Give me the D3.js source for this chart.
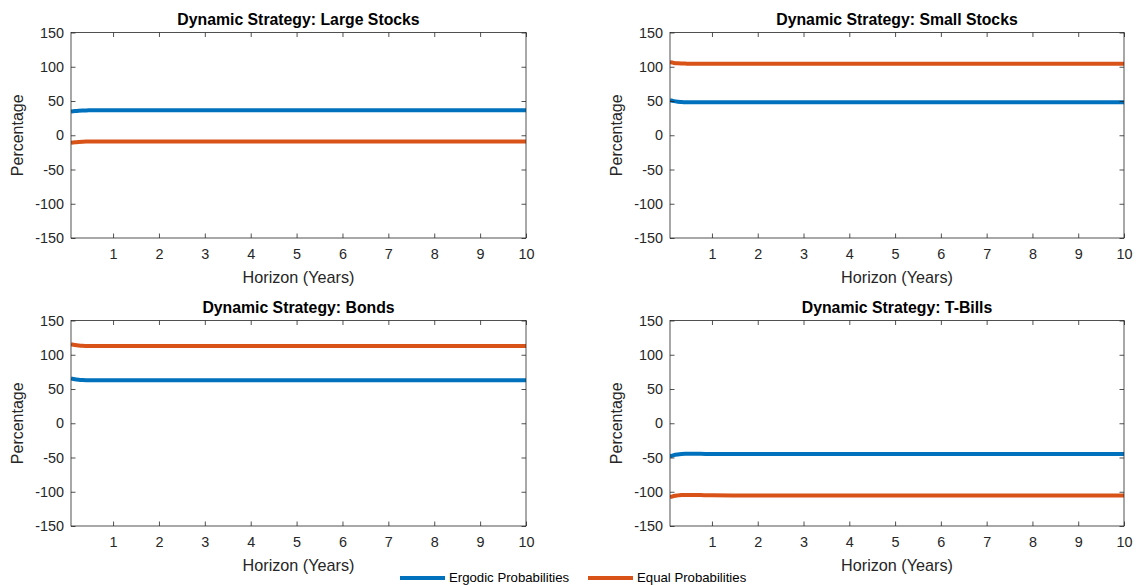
<!DOCTYPE html>
<html>
<head>
<meta charset="utf-8">
<script src="https://cdn.jsdelivr.net/npm/d3@7"></script>
<style>
  html, body { margin: 0; padding: 0; background: #fff; }
  svg { display: block; font-family: "Liberation Sans", Arial, Helvetica, sans-serif; }
</style>
</head>
<body>
<svg id="chart" width="1136" height="585"></svg>
<script>
// Investment horizon in years (monthly steps at the short end)
const horizon = [1/12, 2/12, 3/12, 4/12, 5/12, 6/12, 9/12, 1, 1.5, 2, 3, 4, 5, 6, 7, 8, 9, 10];

// Portfolio weights (%) under the dynamic strategy
const largeErgodic  = [34.6, 35.3, 35.8, 36.1, 36.3, 36.4, 36.5, 36.5, 36.5, 36.5, 36.5, 36.5, 36.5, 36.5, 36.5, 36.5, 36.5, 36.5];
const largeEqual    = [-11.1, -10.3, -9.8, -9.5, -9.3, -9.2, -9.2, -9.2, -9.2, -9.2, -9.2, -9.2, -9.2, -9.2, -9.2, -9.2, -9.2, -9.2];
const smallErgodic  = [51.2, 49.8, 48.9, 48.5, 48.2, 48.1, 48.0, 48.0, 48.0, 48.0, 48.0, 48.0, 48.0, 48.0, 48.0, 48.0, 48.0, 48.0];
const smallEqual    = [106.5, 105.6, 105.0, 104.7, 104.6, 104.5, 104.5, 104.5, 104.5, 104.5, 104.5, 104.5, 104.5, 104.5, 104.5, 104.5, 104.5, 104.5];
const bondsErgodic  = [65.5, 64.2, 63.5, 63.1, 62.9, 62.8, 62.8, 62.8, 62.8, 62.8, 62.8, 62.8, 62.8, 62.8, 62.8, 62.8, 62.8, 62.8];
const bondsEqual    = [115.5, 114.2, 113.4, 113.0, 112.9, 112.8, 112.8, 112.8, 112.8, 112.8, 112.8, 112.8, 112.8, 112.8, 112.8, 112.8, 112.8, 112.8];
const tbillsErgodic = [-48.5, -46.6, -45.6, -45.0, -44.7, -44.6, -44.7, -44.9, -45.0, -45.0, -45.0, -45.0, -45.0, -45.0, -45.0, -45.0, -45.0, -45.0];
const tbillsEqual   = [-108.0, -106.2, -105.3, -104.8, -104.6, -104.6, -104.9, -105.2, -105.4, -105.5, -105.5, -105.5, -105.5, -105.5, -105.5, -105.5, -105.5, -105.5];

const titles = ["Dynamic Strategy: Large Stocks", "Dynamic Strategy: Small Stocks",
                "Dynamic Strategy: Bonds", "Dynamic Strategy: T-Bills"];
const seriesNames = ["Ergodic Probabilities", "Equal Probabilities"];
const xTicks = [1, 2, 3, 4, 5, 6, 7, 8, 9, 10];
const yTicks = [-150, -100, -50, 0, 50, 100, 150];

const panelData = [
  [largeErgodic, largeEqual],
  [smallErgodic, smallEqual],
  [bondsErgodic, bondsEqual],
  [tbillsErgodic, tbillsEqual]
];

const colors = ["#0072BD", "#D95319"];
const axisColor = "#262626";

// Axes boxes for the 2x2 grid
const boxes = [
  {x0: 71,  x1: 526,  y0: 32.5,  y1: 238},
  {x0: 670, x1: 1124, y0: 32.5,  y1: 238},
  {x0: 71,  x1: 526,  y0: 320.5, y1: 526},
  {x0: 670, x1: 1124, y0: 320.5, y1: 526}
];

const svg = d3.select("#chart");
svg.append("rect").attr("width", 1136).attr("height", 585).attr("fill", "#fff");

const plainNumber = d => String(d);

panelData.forEach((series, i) => {
  const b = boxes[i];
  const x = d3.scaleLinear().domain([1/12, 10]).range([b.x0, b.x1]);
  const y = d3.scaleLinear().domain([-150, 150]).range([b.y1, b.y0]);
  const g = svg.append("g");

  const clipId = "clip" + i;
  g.append("clipPath").attr("id", clipId)
    .append("rect").attr("x", b.x0).attr("y", b.y0)
    .attr("width", b.x1 - b.x0).attr("height", b.y1 - b.y0);

  const line = d3.line()
    .x((d, k) => x(horizon[k]))
    .y(d => y(d))
    .curve(d3.curveMonotoneX);

  series.forEach((vals, s) => {
    g.append("path")
      .attr("clip-path", `url(#${clipId})`)
      .attr("d", line(vals))
      .attr("fill", "none")
      .attr("stroke", colors[s])
      .attr("stroke-width", 4)
      .attr("stroke-linejoin", "round");
  });

  // bottom axis with labels, top axis as mirrored ticks
  const tickLen = 4.5;
  const xb = g.append("g").attr("transform", `translate(0,${b.y1})`)
    .call(d3.axisBottom(x).tickValues(xTicks).tickFormat(plainNumber)
      .tickSizeInner(-tickLen).tickSizeOuter(0).tickPadding(11));
  const xt = g.append("g").attr("transform", `translate(0,${b.y0})`)
    .call(d3.axisTop(x).tickValues(xTicks).tickSizeInner(-tickLen).tickSizeOuter(0).tickFormat(""));
  const yl = g.append("g").attr("transform", `translate(${b.x0},0)`)
    .call(d3.axisLeft(y).tickValues(yTicks).tickFormat(plainNumber)
      .tickSizeInner(-tickLen).tickSizeOuter(0).tickPadding(7));
  const yr = g.append("g").attr("transform", `translate(${b.x1},0)`)
    .call(d3.axisRight(y).tickValues(yTicks).tickSizeInner(-tickLen).tickSizeOuter(0).tickFormat(""));

  [xb, xt, yl, yr].forEach(a => {
    a.select(".domain").remove();
    a.selectAll(".tick line").attr("stroke", axisColor).attr("stroke-width", 0.8);
    a.selectAll(".tick text")
      .attr("fill", axisColor)
      .style("font-size", "14.4px")
      .style("font-family", "Liberation Sans, Arial, sans-serif");
  });

  // axes box
  g.append("rect")
    .attr("x", b.x0).attr("y", b.y0)
    .attr("width", b.x1 - b.x0).attr("height", b.y1 - b.y0)
    .attr("fill", "none").attr("stroke", axisColor).attr("stroke-width", 0.8);

  // title
  g.append("text")
    .attr("x", (b.x0 + b.x1) / 2).attr("y", b.y0 - 7.5)
    .attr("text-anchor", "middle")
    .attr("font-weight", "bold")
    .attr("font-size", 15.8)
    .attr("fill", "#000")
    .text(titles[i]);

  // x label
  g.append("text")
    .attr("x", (b.x0 + b.x1) / 2).attr("y", b.y1 + 45)
    .attr("text-anchor", "middle")
    .attr("font-size", 16.2)
    .attr("fill", axisColor)
    .text("Horizon (Years)");

  // y label
  g.append("text")
    .attr("transform", `translate(${b.x0 - 48},${(b.y0 + b.y1) / 2}) rotate(-90)`)
    .attr("text-anchor", "middle")
    .attr("font-size", 16)
    .attr("fill", axisColor)
    .text("Percentage");
});

// legend along the bottom edge
const legend = svg.append("g");
const legendItems = [{x: 400, s: 0}, {x: 588, s: 1}];
legendItems.forEach(it => {
  legend.append("line")
    .attr("x1", it.x).attr("x2", it.x + 45)
    .attr("y1", 578).attr("y2", 578)
    .attr("stroke", colors[it.s]).attr("stroke-width", 4);
  legend.append("text")
    .attr("x", it.x + 49).attr("y", 581.5)
    .attr("font-size", 13.2)
    .attr("fill", "#000")
    .text(seriesNames[it.s]);
});
</script>
</body>
</html>
